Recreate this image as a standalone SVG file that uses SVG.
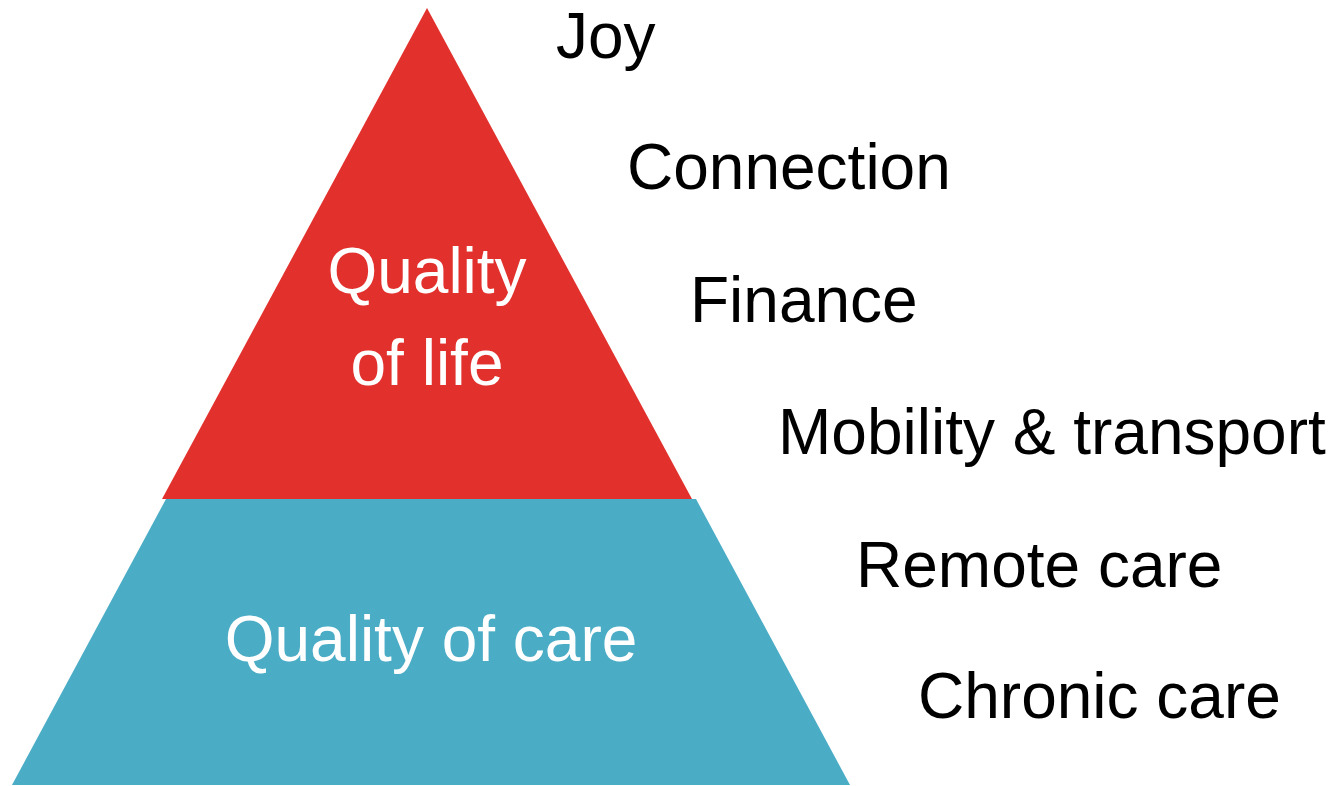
<svg xmlns="http://www.w3.org/2000/svg" width="1334" height="786" viewBox="0 0 1334 786">
<style>
  .lbl { font-family: "Liberation Sans", Arial, sans-serif; font-size: 64px; fill: #000; }
  .in { font-family: "Liberation Sans", Arial, sans-serif; font-size: 64px; fill: #fff; text-anchor: middle; }
</style>
<rect width="1334" height="786" fill="#fff"/>
<g id="quality-of-life">
  <polygon points="427,8 692,499 162,499" fill="#E2312D"/>
  <text class="in" x="427" y="293">Quality</text>
  <text class="in" x="427" y="385">of life</text>
</g>
<g id="quality-of-care">
  <polygon points="166,499 696,499 850,785 12,785" fill="#4BACC6"/>
  <text class="in" x="431" y="661">Quality of care</text>
</g>
<g id="connectors"></g>
<g id="labels">
  <text class="lbl" x="556" y="58">Joy</text>
  <text class="lbl" x="627" y="189">Connection</text>
  <text class="lbl" x="690" y="322">Finance</text>
  <text class="lbl" x="778" y="454">Mobility &amp; transport</text>
  <text class="lbl" x="856" y="587">Remote care</text>
  <text class="lbl" x="918" y="718">Chronic care</text>
</g>
</svg>
